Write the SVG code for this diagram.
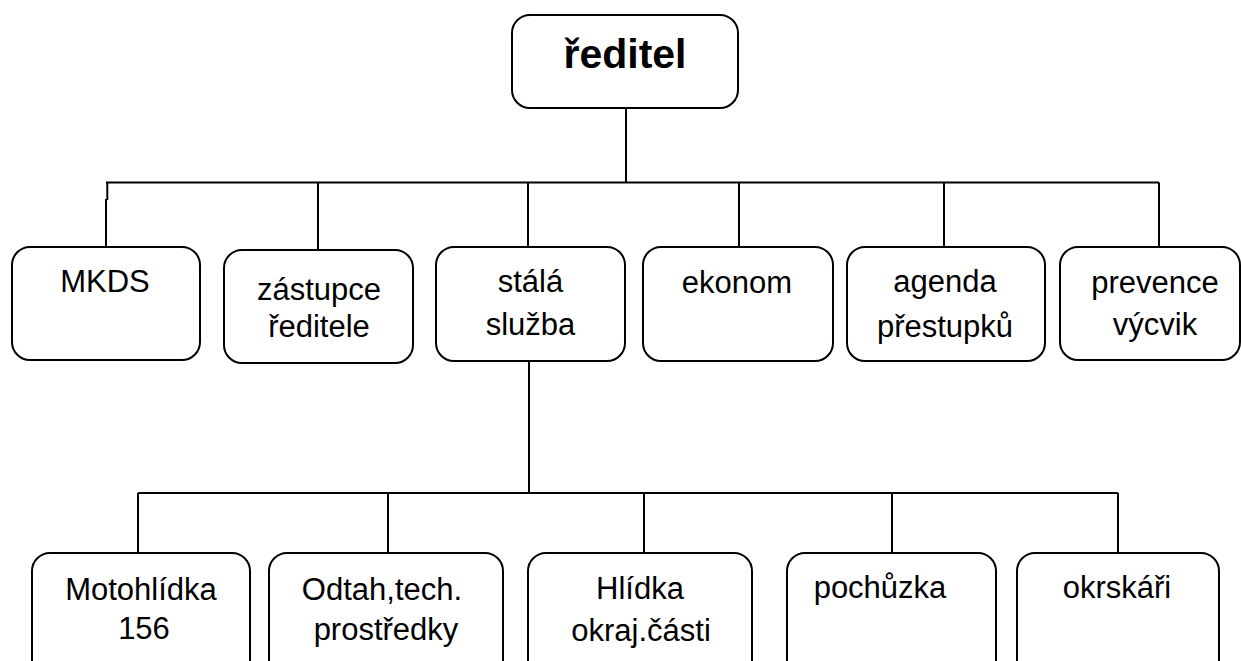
<svg xmlns="http://www.w3.org/2000/svg" width="1241" height="661" viewBox="0 0 1241 661">
<style>
.box{fill:#fff;stroke:#000;stroke-width:2}
.ln{fill:none;stroke:#000;stroke-width:2}
text{font-family:"Liberation Sans",Arial,sans-serif;font-size:31px;fill:#000;text-anchor:middle}
.b{font-weight:bold;font-size:41px}
</style>
<rect width="1241" height="661" fill="#fff"/>
<g id="connectors">
<path class="ln" d="M626 108V182.5M106 182.5H1159M107.3 182.5V200M106 199V247M318 182.5V250M528 182.5V247M739 182.5V250M944 182.5V247M1159 182.5V247"/>
<path class="ln" d="M529 361V493M138 493H1118M138 493V553M388 493V553M644 493V553M892 493V553M1118 493V553"/>
</g>
<g id="reditel"><rect class="box" x="512" y="15" width="226" height="93" rx="18"/><text class="b" x="625" y="68">ředitel</text></g>
<g id="mkds"><rect class="box" x="12" y="247" width="188" height="113" rx="18"/><text x="105" y="292">MKDS</text></g>
<g id="zastupce"><rect class="box" x="224" y="250" width="189" height="113" rx="18"/><text x="319" y="300">zástupce</text><text x="319" y="337">ředitele</text></g>
<g id="stala"><rect class="box" x="436" y="247" width="189" height="114" rx="18"/><text x="530.5" y="292">stálá</text><text x="530.5" y="335">služba</text></g>
<g id="ekonom"><rect class="box" x="643" y="247" width="190" height="114" rx="18"/><text x="737" y="293">ekonom</text></g>
<g id="agenda"><rect class="box" x="847" y="247" width="198" height="114" rx="18"/><text x="945" y="292">agenda</text><text x="945" y="337">přestupků</text></g>
<g id="prevence"><rect class="box" x="1060" y="247" width="180" height="113" rx="18"/><text x="1155" y="293">prevence</text><text x="1155" y="335">výcvik</text></g>
<g id="motohlidka"><rect class="box" x="32" y="553" width="218" height="130" rx="18"/><text x="141" y="600">Motohlídka</text><text x="144" y="639">156</text></g>
<g id="odtah"><rect class="box" x="269" y="553" width="234" height="130" rx="18"/><text x="382" y="600">Odtah,tech.</text><text x="386" y="640">prostředky</text></g>
<g id="hlidka"><rect class="box" x="528" y="553" width="224" height="130" rx="18"/><text x="640" y="599">Hlídka</text><text x="641" y="641">okraj.části</text></g>
<g id="pochuzka"><rect class="box" x="787" y="553" width="209" height="130" rx="18"/><text x="880" y="598">pochůzka</text></g>
<g id="okrskari"><rect class="box" x="1017" y="553" width="202" height="130" rx="18"/><text x="1117" y="598">okrskáři</text></g>
</svg>
